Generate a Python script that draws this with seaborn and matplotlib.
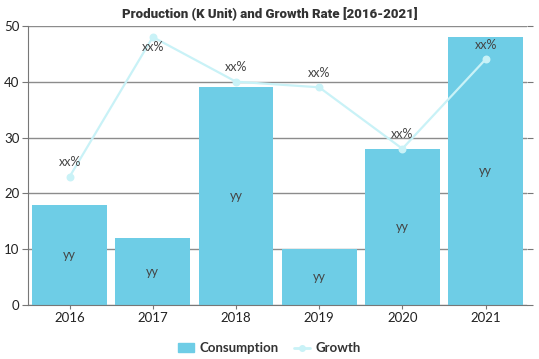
import numpy as np
import pandas as pd
import seaborn as sns
import matplotlib.pyplot as plt
from matplotlib.patches import Patch
from matplotlib.lines import Line2D

years = ["2016", "2017", "2018", "2019", "2020", "2021"]
consumption = [18, 12, 39, 10, 28, 48]
growth = [23, 48, 40, 39, 28, 44]
bar_labels = ["yy"] * 6
line_labels = ["xx%"] * 6

bar_color = "#6ecde6"
line_color = "#c9f2f7"

sns.set_style("white")
plt.rcParams["font.family"] = ["Lato", "DejaVu Sans"]

df = pd.DataFrame({"year": years, "consumption": consumption, "growth": growth})

fig = plt.figure(figsize=(5.39, 3.59), dpi=100)
ax = fig.add_axes([0.052, 0.150, 0.926, 0.778])

sns.barplot(data=df, x="year", y="consumption", color=bar_color, saturation=1,
            width=0.9, edgecolor="none", ax=ax, zorder=2)
sns.pointplot(data=df, x="year", y="growth", color=line_color, markers="o",
              markersize=4.5, linewidth=1.6, ax=ax, zorder=3)

for i, (c, g) in enumerate(zip(consumption, growth)):
    ax.text(i, c / 2, bar_labels[i], ha="center", va="center", fontsize=9,
            color="#444444", zorder=4)
    # labels that would run past the top go under the point
    if g + 4 > 50:
        ax.text(i, g - 0.8, line_labels[i], ha="center", va="top", fontsize=9,
                color="#444444", zorder=4)
    else:
        ax.text(i, g + 1.5, line_labels[i], ha="center", va="bottom", fontsize=9,
                color="#444444", zorder=4)

ax.set_xlim(-0.5, 5.5)
ax.set_ylim(0, 50)
ax.set_yticks([0, 10, 20, 30, 40, 50])
ax.yaxis.grid(True, color="#8c8c8c", linewidth=1, zorder=0)
ax.set_axisbelow(True)
ax.set_xlabel("")
ax.set_ylabel("")
for s in ["top", "right"]:
    ax.spines[s].set_visible(False)
for s in ["left", "bottom"]:
    ax.spines[s].set_color("#777777")
ax.tick_params(axis="y", left=True, right=True, length=4, color="#777777",
               labelsize=9.5, labelcolor="#222222", pad=2)
ax.tick_params(axis="x", bottom=True, length=3, color="#777777",
               labelsize=9.5, labelcolor="#222222", pad=2)

fig.text(0.5, 0.982, "Production (K Unit) and Growth Rate [2016-2021]",
         ha="center", va="top", fontsize=9.5, fontweight="black",
         color="#333333", family=["Roboto", "DejaVu Sans"])

handles = [Patch(facecolor=bar_color, edgecolor=bar_color),
           Line2D([0], [0], color=line_color, marker="o", markersize=4, linewidth=2)]
fig.legend(handles, ["Consumption", "Growth"], loc="lower center",
           bbox_to_anchor=(0.5, -0.02), ncol=2, frameon=False,
           prop={"size": 9.5, "weight": "bold"}, labelcolor="#333333",
           handlelength=1.2, handletextpad=0.4, columnspacing=1.2)

fig.savefig("out.png", dpi=100)
